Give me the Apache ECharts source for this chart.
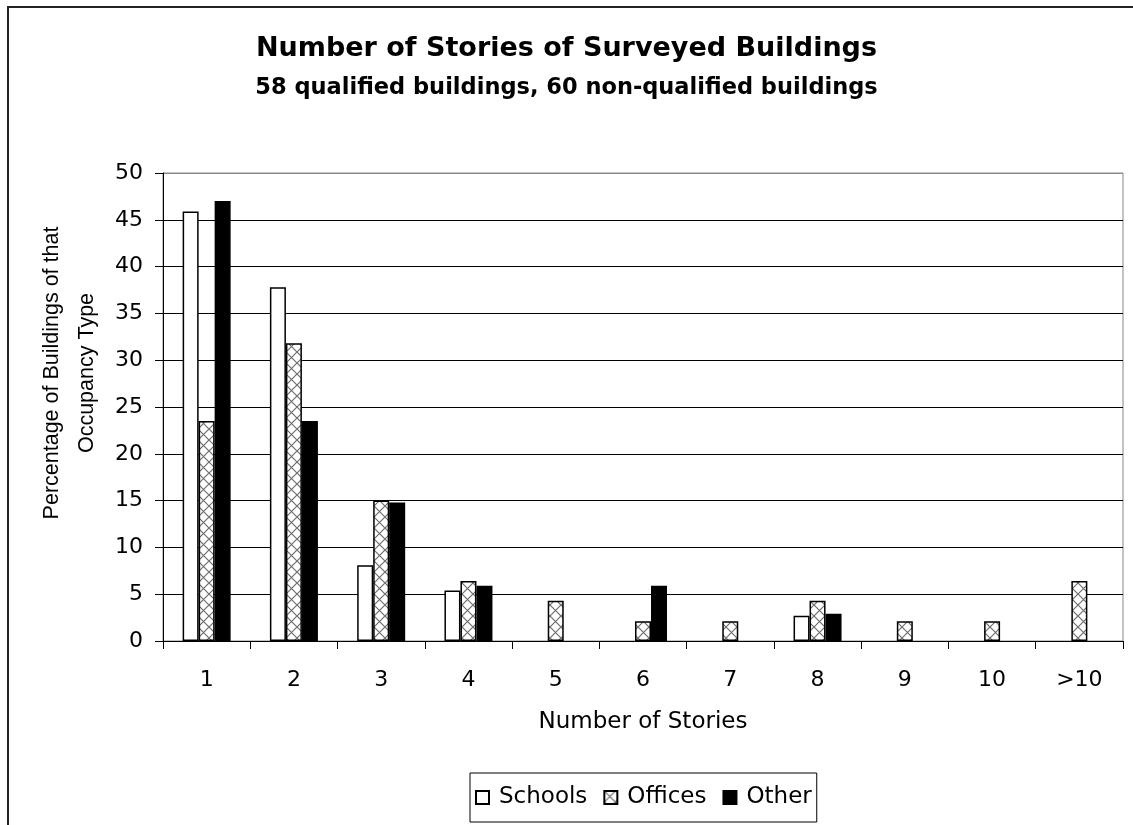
<!DOCTYPE html>
<html>
<head>
<meta charset="utf-8">
<script src="https://cdn.jsdelivr.net/npm/echarts@6/dist/echarts.min.js"></script>
<style>
html,body{margin:0;padding:0;background:#fff;}
#chart{width:1133px;height:825px;}
</style>
</head>
<body>
<div id="chart"></div>
<script>
const categories = ['1','2','3','4','5','6','7','8','9','10','>10'];
const schools = [45.9, 37.8, 8.1, 5.4, 0, 0, 0, 2.7, 0, 0, 0];
const offices = [23.5, 31.8, 15.0, 6.4, 4.3, 2.1, 2.1, 4.3, 2.1, 2.1, 6.4];
const other = [47.0, 23.5, 14.8, 5.9, 0, 5.9, 0, 2.9, 0, 0, 0];
const yTicks = { min: 0, max: 50, interval: 5 };

function makePattern() {
  const s = 11;
  const c = document.createElement('canvas');
  c.width = s; c.height = s;
  const g = c.getContext('2d');
  g.fillStyle = '#ffffff';
  g.fillRect(0, 0, s, s);
  g.strokeStyle = '#6e6e6e';
  g.lineWidth = 1.2;
  g.beginPath();
  g.moveTo(0, 0); g.lineTo(s, s);
  g.moveTo(s, 0); g.lineTo(0, s);
  g.stroke();
  return c;
}
const pattern = { image: makePattern(), repeat: 'repeat' };

// zero-height bars: keep the value but draw no outline
function barData(values) {
  return values.map(v => v === 0 ? { value: v, itemStyle: { borderWidth: 0, opacity: 0 } } : v);
}

const FONT = 'DejaVu Sans';
const chart = echarts.init(document.getElementById('chart'), null, { renderer: 'canvas' });

const gridColors = [];
for (let i = 0; i < 10; i++) gridColors.push('#000000');
gridColors.push('#8a8a8a');

chart.setOption({
  backgroundColor: '#ffffff',
  animation: false,
  title: [
    {
      text: 'Number of Stories of Surveyed Buildings',
      left: 'center',
      top: 35,
      padding: 0,
      textStyle: { fontFamily: FONT, fontSize: 27, fontWeight: 'bold', color: '#000' }
    },
    {
      text: '58 qualified buildings, 60 non-qualified buildings',
      left: 'center',
      top: 77,
      padding: 0,
      textStyle: { fontFamily: FONT, fontSize: 22.5, fontWeight: 'bold', color: '#000' }
    }
  ],
  graphic: [
    {
      type: 'rect',
      shape: { x: 8, y: 7, width: 1140, height: 840 },
      style: { fill: 'none', stroke: '#222', lineWidth: 2 },
      silent: true
    }
  ],
  legend: {
    left: 470,
    top: 773,
    orient: 'horizontal',
    padding: [13, 5, 13, 5],
    itemGap: 16,
    itemWidth: 13,
    itemHeight: 13,
    borderColor: '#000',
    borderWidth: 1,
    icon: 'rect',
    textStyle: { fontFamily: FONT, fontSize: 23, color: '#000', padding: [0, 0, 0, 5] },
    data: ['Schools', 'Offices', 'Other']
  },
  grid: {
    left: 163,
    right: 10,
    top: 173,
    bottom: 184,
    show: true,
    borderColor: '#8a8a8a',
    borderWidth: 1,
    backgroundColor: '#fff'
  },
  xAxis: {
    type: 'category',
    data: categories,
    boundaryGap: true,
    name: 'Number of Stories',
    nameLocation: 'middle',
    nameGap: 70,
    nameTextStyle: { fontFamily: FONT, fontSize: 23, color: '#000' },
    axisLine: { show: true, lineStyle: { color: '#000', width: 1 } },
    axisTick: { show: true, alignWithLabel: false, length: 8, lineStyle: { color: '#000' } },
    axisLabel: { fontFamily: FONT, fontSize: 22, color: '#000', margin: 28 },
    splitLine: { show: false }
  },
  yAxis: {
    type: 'value',
    min: yTicks.min,
    max: yTicks.max,
    interval: yTicks.interval,
    name: 'Percentage of Buildings of that\nOccupancy Type',
    nameLocation: 'middle',
    nameRotate: 90,
    nameGap: 58,
    nameTextStyle: { fontFamily: 'Liberation Sans', fontSize: 21.5, color: '#000', lineHeight: 35, align: 'center', padding: [0, 0, 0, 68] },
    axisLine: { show: true, lineStyle: { color: '#000', width: 1 } },
    axisTick: { show: true, length: 8, lineStyle: { color: '#000' } },
    axisLabel: { fontFamily: FONT, fontSize: 22, color: '#000', margin: 20 },
    splitLine: { show: true, lineStyle: { color: gridColors, width: 1 } }
  },
  series: [
    {
      name: 'Schools',
      type: 'bar',
      data: barData(schools),
      barWidth: 16,
      barGap: '0%',
      itemStyle: { color: '#ffffff', borderColor: '#000', borderWidth: 1.5 }
    },
    {
      name: 'Offices',
      type: 'bar',
      data: barData(offices),
      barWidth: 16,
      barGap: '0%',
      itemStyle: { color: pattern, borderColor: '#000', borderWidth: 1.5 }
    },
    {
      name: 'Other',
      type: 'bar',
      data: barData(other),
      barWidth: 16,
      barGap: '0%',
      itemStyle: { color: '#000000', borderColor: '#000', borderWidth: 1.5 }
    }
  ]
});
</script>
</body>
</html>
